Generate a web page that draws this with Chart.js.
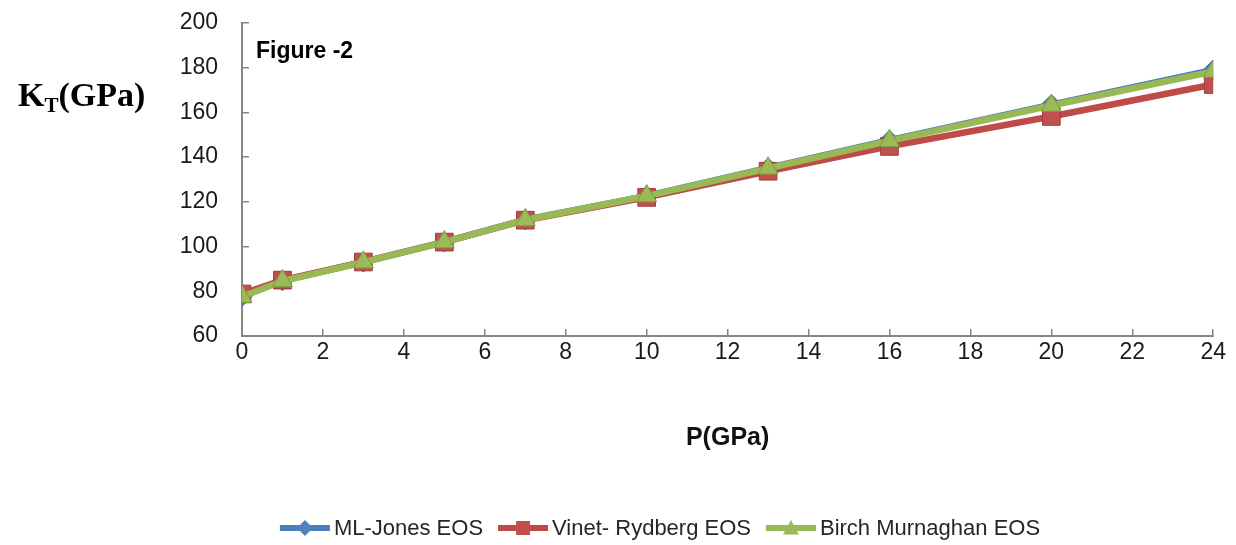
<!DOCTYPE html>
<html>
<head>
<meta charset="utf-8">
<script src="https://cdn.jsdelivr.net/npm/chart.js@4.4.1/dist/chart.umd.min.js"></script>
<style>
  html, body { margin: 0; padding: 0; background: #ffffff; }
  #wrap { width: 1236px; height: 545px; position: relative; }
</style>
</head>
<body>
<div id="wrap"><canvas id="chart" width="1236" height="545"></canvas></div>
<script>
// Pressure points (GPa)
const pressure = [0, 1, 3, 5, 7, 10, 13, 16, 20, 24];

// Isothermal bulk modulus K_T (GPa) for each equation of state
const mlJones        = [77.7, 84.7, 93.1, 102.1, 112.0, 122.7, 135.2, 147.6, 163.5, 179.0];
const vinetRydberg   = [78.8, 85.0, 93.1, 102.0, 111.8, 122.0, 133.7, 144.8, 158.2, 172.5];
const birchMurnaghan = [77.6, 84.6, 93.0, 102.0, 111.9, 122.6, 135.0, 147.3, 163.1, 178.3];

const seriesNames = ['ML-Jones EOS', 'Vinet- Rydberg EOS', 'Birch Murnaghan EOS'];

// Axis tick labels
const xTickValues = [0, 2, 4, 6, 8, 10, 12, 14, 16, 18, 20, 22, 24];
const yTickValues = [60, 80, 100, 120, 140, 160, 180, 200];

const SANS = "'Liberation Sans', Arial, sans-serif";
const SERIF = "'Liberation Serif', 'DejaVu Serif', serif";
const AXIS_GREY = '#868686';

const styles = [
  { line: '#4A7EBB', fill: '#4F81BD', border: '#3B6AA0', shape: 'rectRot', radius: 10 },
  { line: '#BE4B48', fill: '#C0504D', border: '#A03C3A', shape: 'rect',    radius: 12.5 },
  { line: '#98B954', fill: '#9BBB59', border: '#7E9C44', shape: 'triangle', radius: 11.5 }
];

const toPoints = (ys) => pressure.map((p, i) => ({ x: p, y: ys[i] }));
const seriesValues = [mlJones, vinetRydberg, birchMurnaghan];

const datasets = seriesValues.map((vals, i) => ({
  label: seriesNames[i],
  data: toPoints(vals),
  borderColor: styles[i].line,
  backgroundColor: styles[i].fill,
  borderWidth: 6.5,
  tension: 0,
  pointStyle: styles[i].shape,
  pointRadius: styles[i].radius,
  pointHoverRadius: styles[i].radius,
  pointBackgroundColor: styles[i].fill,
  pointBorderColor: styles[i].border,
  pointBorderWidth: 1,
  // last series sits on top
  order: 2 - i
}));

// Draws a legend marker shape centred at (x, y)
function drawMarker(ctx, shape, x, y, r) {
  ctx.beginPath();
  if (shape === 'rect') {
    ctx.rect(x - r, y - r, 2 * r, 2 * r);
  } else if (shape === 'rectRot') {
    ctx.moveTo(x, y - r); ctx.lineTo(x + r, y); ctx.lineTo(x, y + r); ctx.lineTo(x - r, y);
    ctx.closePath();
  } else {
    ctx.moveTo(x, y - r); ctx.lineTo(x + r, y + r * 0.8); ctx.lineTo(x - r, y + r * 0.8);
    ctx.closePath();
  }
  ctx.fill();
}

// Titles, figure tag and the line-with-marker legend
const decorations = {
  id: 'decorations',
  afterDraw(chart) {
    const ctx = chart.ctx;
    ctx.save();

    // K_T(GPa) axis title
    ctx.fillStyle = '#000000';
    ctx.textBaseline = 'alphabetic';
    ctx.textAlign = 'left';
    let x = 18;
    const base = 106;
    ctx.font = 'bold 34px ' + SERIF;
    ctx.fillText('K', x, base);
    x += ctx.measureText('K').width;
    ctx.font = 'bold 21px ' + SERIF;
    ctx.fillText('T', x, base + 6);
    x += ctx.measureText('T').width;
    ctx.font = 'bold 34px ' + SERIF;
    ctx.fillText('(GPa)', x, base);

    // Figure tag
    ctx.font = 'bold 23px ' + SANS;
    ctx.fillText('Figure -2', 256, 58);

    // Legend
    ctx.font = '22px ' + SANS;
    const symW = 50, gap = 4, spacing = 15;
    const items = chart.data.datasets.map((ds, i) => ({
      ds, st: styles[i], w: symW + gap + ctx.measureText(ds.label).width
    }));
    const total = items.reduce((s, it) => s + it.w, 0) + spacing * (items.length - 1);
    let lx = 660 - total / 2;
    const ly = 528;
    items.forEach(it => {
      ctx.strokeStyle = it.st.line;
      ctx.lineWidth = 6;
      ctx.lineCap = 'butt';
      ctx.beginPath();
      ctx.moveTo(lx, ly);
      ctx.lineTo(lx + symW, ly);
      ctx.stroke();
      ctx.fillStyle = it.st.fill;
      const r = it.st.shape === 'rect' ? 7 : 8;
      drawMarker(ctx, it.st.shape, lx + symW / 2, ly, r);
      ctx.fillStyle = '#262626';
      ctx.textBaseline = 'middle';
      ctx.fillText(it.ds.label, lx + symW + gap, ly + 1);
      lx += it.w + spacing;
    });
    ctx.restore();
  }
};

new Chart(document.getElementById('chart'), {
  type: 'line',
  data: { datasets },
  options: {
    responsive: false,
    animation: false,
    devicePixelRatio: 1,
    layout: { padding: { left: 0, top: 23, right: 20, bottom: 0 } },
    plugins: {
      legend: { display: false },
      tooltip: { enabled: false },
      title: { display: false }
    },
    scales: {
      x: {
        type: 'linear',
        min: xTickValues[0],
        max: xTickValues[xTickValues.length - 1],
        afterBuildTicks: (scale) => { scale.ticks = xTickValues.map(v => ({ value: v })); },
        afterFit: (scale) => { scale.height = 545 - 336; },
        grid: { drawOnChartArea: false, drawTicks: true, tickLength: -7, color: AXIS_GREY, lineWidth: 1.5 },
        border: { color: AXIS_GREY, width: 2 },
        ticks: { color: '#1a1a1a', font: { family: SANS, size: 23 }, padding: 10, maxRotation: 0, autoSkip: false },
        title: {
          display: true,
          text: 'P(GPa)',
          color: '#111111',
          font: { family: SANS, size: 25, weight: 'bold' },
          padding: { top: 0, bottom: 92 }
        }
      },
      y: {
        type: 'linear',
        min: yTickValues[0],
        max: yTickValues[yTickValues.length - 1],
        afterBuildTicks: (scale) => { scale.ticks = yTickValues.map(v => ({ value: v })); },
        afterFit: (scale) => {
          scale.width = 242;
          // labels are offset sideways only; keep the vertical overhang to half a label
          scale.paddingTop = 14;
          scale.paddingBottom = 14;
        },
        grid: { drawOnChartArea: false, drawTicks: true, tickLength: -7, color: AXIS_GREY, lineWidth: 1.5 },
        border: { color: AXIS_GREY, width: 2 },
        ticks: { color: '#1a1a1a', font: { family: SANS, size: 23 }, padding: 31, autoSkip: false }
      }
    }
  },
  plugins: [decorations]
});
</script>
</body>
</html>
